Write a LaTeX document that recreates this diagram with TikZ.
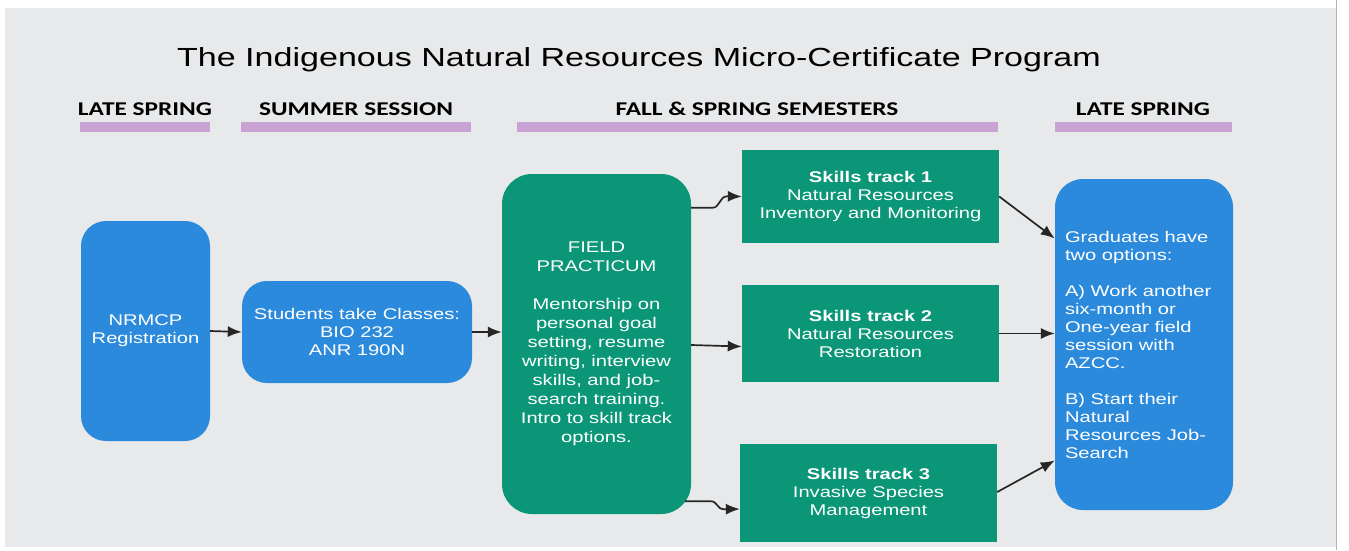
\documentclass[tikz,border=0pt]{standalone}
\usepackage{fontspec}
\setmainfont{Liberation Sans}[FakeStretch=1.3]
\newfontfamily\headfont{Carlito}[FakeStretch=1.3]
\usetikzlibrary{arrows.meta,calc}

\definecolor{pagegray}{HTML}{E8E9EB}
\definecolor{edgegray}{HTML}{B4B4B4}
\definecolor{boxblue}{HTML}{2B8ADB}
\definecolor{boxgreen}{HTML}{0B9678}
\definecolor{barpurple}{HTML}{C9A3D3}
\definecolor{arrowink}{HTML}{262626}

\tikzset{
  x=1pt, y=-1pt,
  bluebox/.style={draw=none, fill=boxblue, text=white, inner sep=0pt,
    align=center, font=\fontsize{15.5}{18}\selectfont},
  greenbox/.style={draw=none, fill=boxgreen, text=white, inner sep=0pt,
    align=center, font=\fontsize{15.5}{18}\selectfont},
  phase/.style={anchor=base, font=\headfont\bfseries\fontsize{19.5}{22}\selectfont, text=black},
  phasebar/.style={fill=barpurple, draw=none},
  flow/.style={draw=arrowink, line width=1.7pt,
    -{Latex[length=14pt,width=11pt]}},
}

\begin{document}
\begin{tikzpicture}
\useasboundingbox (0,0) rectangle (1349,550);
\fill[white] (0,0) rectangle (1349,550);
\fill[pagegray] (5,8) rectangle (1336,547);
\draw[edgegray, line width=1.5pt] (1336.5,0) -- (1336.5,550);

% title
\node[anchor=base, font=\fontsize{26.2}{30}\selectfont] (title) at (639,66)
  {The Indigenous Natural Resources Micro-Certificate Program};

% phase headings with their bars
\node[phase] (h1) at (145,115) {LATE SPRING};
\node[phase] (h2) at (356,115) {SUMMER SESSION};
\node[phase] (h3) at (757,115) {FALL \& SPRING SEMESTERS};
\node[phase] (h4) at (1143,115) {LATE SPRING};
\fill[phasebar] (80,122) rectangle (210,132);
\fill[phasebar] (241,122) rectangle (471,132);
\fill[phasebar] (517,122) rectangle (998,132);
\fill[phasebar] (1055,122) rectangle (1232,132);

% program steps
\node[bluebox, rounded corners=25pt, minimum width=129pt, minimum height=220pt]
  (reg) at (145.5,331) {NRMCP\\Registration};
\node[bluebox, rounded corners=25pt, minimum width=230pt, minimum height=102pt]
  (classes) at (357,332) {Students take Classes:\\BIO 232\\ANR 190N};
\node[greenbox, rounded corners=30pt, minimum width=189pt, minimum height=340pt,
  font=\fontsize{15.5}{19}\selectfont]
  (field) at (596.5,344)
  {FIELD\\PRACTICUM\\[19pt]Mentorship on\\personal goal\\setting, resume\\writing, interview\\skills, and job-\\search training.\\Intro to skill track\\options.};
\node[greenbox, minimum width=257pt, minimum height=93pt]
  (t1) at (870.5,196.5) {\textbf{Skills track 1}\\Natural Resources\\Inventory and Monitoring};
\node[greenbox, minimum width=257pt, minimum height=97pt]
  (t2) at (870.5,333.5) {\textbf{Skills track 2}\\Natural Resources\\Restoration};
\node[greenbox, minimum width=257pt, minimum height=98pt]
  (t3) at (868.5,493) {\textbf{Skills track 3}\\Invasive Species\\Management};
\node[bluebox, rounded corners=28pt, minimum width=178pt, minimum height=331pt,
  inner xsep=10pt, text width=158pt, align=flush left]
  (grad) at (1144,344.5)
  {Graduates have\\two options:\\[18pt]A) Work another\\six-month or\\One-year field\\session with\\AZCC.\\[18pt]B) Start their\\Natural\\Resources Job-\\Search};

% connectors
\draw[flow] (reg.east) -- (classes.west);
\draw[flow] (classes.west -| classes.east) -- (field.west |- classes.east);
\draw[flow] ($(field.north east)+(0,34)$) -- ++(21,0)
  .. controls +(8,0) and +(-8,0) .. ++(15,-11.5) -- (t1.west);
\draw[flow] ($(field.east)+(0,1)$) -- ($(t2.west)+(0,13)$);
\draw[flow] ($(field.south east)+(-6,-13)$) -- ++(25,0)
  .. controls +(8,0) and +(-8,0) .. ++(14,8) -- ($(t3.west)+(0,16)$);
\draw[flow] (t1.east) -- ($(grad.west)+(0,-106)$);
\draw[flow] (t2.east) -- (grad.west |- t2.east);
\draw[flow] ($(t3.east)+(0,-1)$) -- ($(grad.west)+(0,116)$);
\end{tikzpicture}
\end{document}
